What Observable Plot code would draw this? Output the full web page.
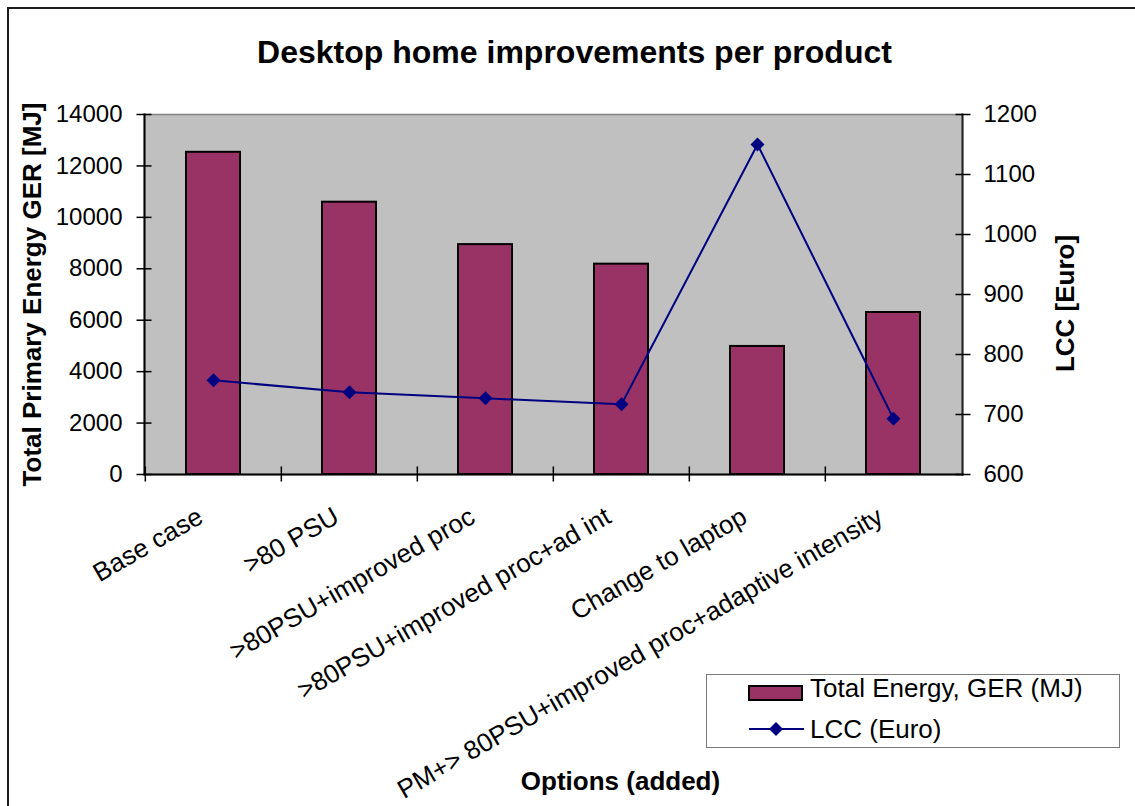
<!DOCTYPE html>
<html><head><meta charset="utf-8">
<script src="https://cdn.jsdelivr.net/npm/d3@7"></script>
<script src="https://cdn.jsdelivr.net/npm/@observablehq/plot@0.6"></script>
<style>
html,body{margin:0;padding:0;background:#fff;overflow:hidden;font-family:"Liberation Sans",Arial,sans-serif;}
#wrap{position:relative;width:1135px;height:806px;overflow:hidden;background:#fff;}
#bTop{position:absolute;left:7px;top:7px;width:1200px;height:2px;background:#1a1a1a;}
#bLeft{position:absolute;left:7px;top:7px;width:2px;height:900px;background:#1a1a1a;}
#chart{position:absolute;left:0;top:0;}
#legendBox{position:absolute;left:706px;top:674px;width:414px;height:74px;box-sizing:border-box;border:1.5px solid #7a7a7a;background:#fff;}
.lt{position:absolute;font-size:26px;line-height:26px;white-space:nowrap;color:#000;}
.sw{position:absolute;}
</style></head><body>
<div id="wrap"><div id="bTop"></div><div id="bLeft"></div><div id="chart"></div><div id="legendBox"></div><div id="legendItems"></div></div>
<script>
// ---- data ----
const categories = ["Base case", ">80 PSU", ">80PSU+improved proc", ">80PSU+improved proc+ad int", "Change to laptop", "PM+> 80PSU+improved proc+adaptive intensity"];
const energyMJ = [12530, 10590, 8940, 8180, 4980, 6300];
const lccEuro = [757, 737, 727, 717, 1150, 693];
const energyTicks = [0, 2000, 4000, 6000, 8000, 10000, 12000, 14000];
const lccTicks = [600, 700, 800, 900, 1000, 1100, 1200];
const chartTitle = "Desktop home improvements per product";
const leftTitle = "Total Primary Energy GER [MJ]";
const rightTitle = "LCC [Euro]";
const bottomTitle = "Options (added)";
const seriesNames = ["Total Energy, GER (MJ)", "LCC (Euro)"];

// ---- layout ----
const W = 1135, H = 806, ml = 144, mr = 173, mt = 114, mb = 332;
const step = (W - ml - mr) / categories.length;
const barColor = "#993366", lineColor = "#000080", plotBg = "#C0C0C0";
const font = '"Liberation Sans", Arial, sans-serif';

const toLeft = d3.scaleLinear().domain([lccTicks[0], lccTicks[lccTicks.length - 1]]).range([energyTicks[0], energyTicks[energyTicks.length - 1]]);
const rows = categories.map((c, i) => ({cat: c, energy: energyMJ[i], lcc: lccEuro[i], lccY: toLeft(lccEuro[i])}));

const plot = Plot.plot({
  width: W, height: H,
  marginLeft: ml, marginRight: mr, marginTop: mt, marginBottom: mb,
  style: {fontFamily: font, fontSize: "24px", color: "black", background: "transparent", overflow: "visible"},
  x: {type: "band", domain: categories, paddingInner: 0.6, paddingOuter: 0.3},
  y: {domain: [energyTicks[0], energyTicks[energyTicks.length - 1]]},
  marks: [
    Plot.frame({fill: plotBg, stroke: "#808080", strokeWidth: 1.5}),
    Plot.barY(rows, {x: "cat", y: "energy", fill: barColor, stroke: "black", strokeWidth: 2}),
    Plot.line(rows, {x: "cat", y: "lccY", stroke: lineColor, strokeWidth: 2}),
    Plot.dot(rows, {x: "cat", y: "lccY", symbol: "diamond2", r: 6.3, fill: lineColor, stroke: "none"}),
    Plot.frame({anchor: "left", stroke: "black", strokeWidth: 2}),
    Plot.frame({anchor: "bottom", stroke: "black", strokeWidth: 2}),
    Plot.frame({anchor: "right", stroke: "#222", strokeWidth: 2}),
    // left axis
    Plot.axisY({anchor: "left", ticks: energyTicks, tickSize: 15, dx: 7.5, fill: "none", label: null, strokeWidth: 1.5}),
    Plot.axisY({anchor: "left", ticks: energyTicks, tickSize: 0, tickPadding: 22, label: null, fontSize: 24, tickFormat: d3.format("d")}),
    // right axis
    Plot.axisY({anchor: "right", ticks: lccTicks.map(toLeft), tickSize: 15, dx: -7.5, fill: "none", label: null, strokeWidth: 1.5}),
    Plot.axisY({anchor: "right", ticks: lccTicks.map(toLeft), tickSize: 0, tickPadding: 21, label: null, fontSize: 24, tickFormat: d => String(Math.round(toLeft.invert(d)))}),
    // x boundary ticks
    Plot.axisX({anchor: "bottom", ticks: categories, tickSize: 15, dx: -step / 2, dy: -7.5, fill: "none", label: null, strokeWidth: 1.5}),
    // x tick labels
    Plot.text(rows, {x: "cat", text: "cat", frameAnchor: "bottom", rotate: -30, textAnchor: "end", lineAnchor: "middle", dx: -13, dy: 40, fontSize: 26}),
    // titles
    Plot.text([chartTitle], {frameAnchor: "top", text: d => d, textAnchor: "middle", lineAnchor: "middle", dx: 21, dy: -62, fontSize: 32, fontWeight: "bold"}),
    Plot.text([leftTitle], {frameAnchor: "left", text: d => d, textAnchor: "middle", lineAnchor: "middle", dx: -112, rotate: -90, fontSize: 26, fontWeight: "bold"}),
    Plot.text([rightTitle], {frameAnchor: "right", text: d => d, textAnchor: "middle", lineAnchor: "middle", dx: 103, dy: 9, rotate: -90, fontSize: 26, fontWeight: "bold"}),
    Plot.text([bottomTitle], {frameAnchor: "bottom", text: d => d, textAnchor: "middle", lineAnchor: "middle", dx: 67, dy: 307, fontSize: 26, fontWeight: "bold"})
  ]
});
document.getElementById("chart").appendChild(plot);

// ---- legend ----
const li = document.getElementById("legendItems");
li.innerHTML = `
<svg class="sw" style="left:748px;top:685px" width="56" height="17"><rect x="1" y="1" width="53" height="14" fill="${barColor}" stroke="black" stroke-width="2"/></svg>
<div class="lt" style="left:810px;top:675px">${seriesNames[0]}</div>
<svg class="sw" style="left:748px;top:720px" width="58" height="18"><line x1="1" y1="9" x2="56" y2="9" stroke="${lineColor}" stroke-width="2"/><path d="M28,2 L35,9 L28,16 L21,9 Z" fill="${lineColor}"/></svg>
<div class="lt" style="left:810px;top:716px">${seriesNames[1]}</div>`;
</script>
</body></html>
